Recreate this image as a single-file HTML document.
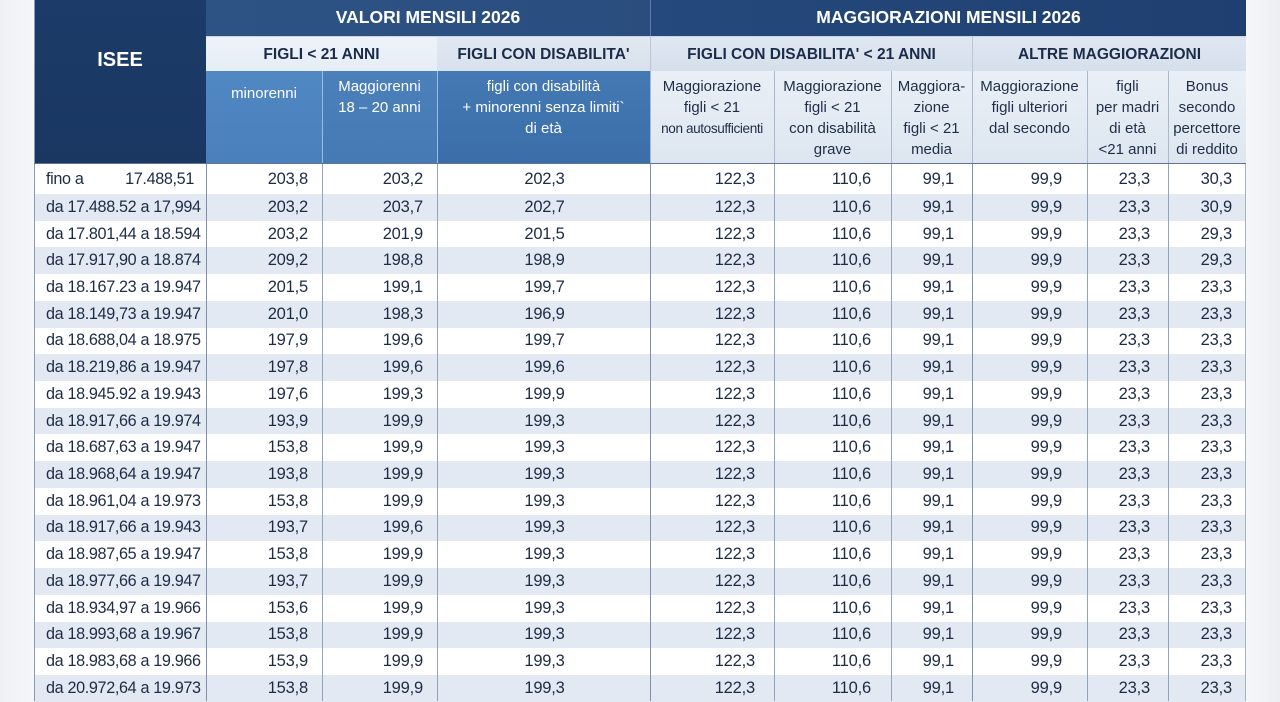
<!DOCTYPE html>
<html><head><meta charset="utf-8">
<style>
html,body{margin:0;padding:0}
body{width:1280px;height:701px;overflow:hidden;background:linear-gradient(90deg,#eef0f3 0,#f6f7f9 34px,#f6f7f9 1246px,#eceef1 1280px);font-family:"Liberation Sans",sans-serif;position:relative}
.a{position:absolute;box-sizing:border-box}
.h1{color:#fff;font-weight:bold;font-size:17.5px;text-align:center;line-height:35px;top:0;height:36px}
.h2{color:#1b2c4b;font-weight:bold;font-size:15.5px;text-align:center;line-height:35px;top:36px;height:35px}
.h3{top:71px;height:93px;text-align:center;font-size:15px;line-height:21.3px;padding-top:4.5px;white-space:nowrap}
.w{color:#fff}
.d{color:#1f2e48;background:linear-gradient(180deg,#e9eff6,#dde6f0)}
.data{position:absolute;left:34px;top:164px;width:1212px;font-size:16.5px;letter-spacing:-0.2px;color:#1d2c46}
.r{display:flex;height:26.72px;align-items:center;background:#fff}
.r:nth-child(even){background:#e2e9f2}
.r.f{height:30px}
.r>span{box-sizing:border-box;white-space:nowrap;display:block}
.r>span:nth-child(1){width:172px;padding-left:12px;font-size:16.2px;letter-spacing:-0.35px}
.r>span:nth-child(2){width:116px;text-align:right;padding-right:14px}
.r>span:nth-child(3){width:115px;text-align:right;padding-right:14px}
.r>span:nth-child(4){width:213px;text-align:center;padding-left:2px}
.r>span:nth-child(5){width:124px;text-align:right;padding-right:19px}
.r>span:nth-child(6){width:117px;text-align:right;padding-right:20px}
.r>span:nth-child(7){width:81px;text-align:right;padding-right:18px}
.r>span:nth-child(8){width:115px;text-align:right;padding-right:25px}
.r>span:nth-child(9){width:81px;text-align:right;padding-right:18px}
.r>span:nth-child(10){width:78px;text-align:right;padding-right:14px}
.v{position:absolute;top:164px;height:537px;width:1px;background:#93a3ba}
.vh{position:absolute;top:71px;height:93px;width:1px}
</style></head><body>

<div class="a" style="left:34px;top:0;width:172px;height:164px;background:linear-gradient(180deg,#1c3b68,#1a3762);color:#fff;font-weight:bold;font-size:20px;text-align:center;padding-top:49px">ISEE</div>

<div class="a h1" style="left:206px;width:444px;background:linear-gradient(90deg,#2d5385,#2a4d7e)">VALORI MENSILI 2026</div>
<div class="a h1" style="left:650px;width:596px;background:linear-gradient(90deg,#25497c,#1f3f70);border-left:1px solid #5d7aa3">MAGGIORAZIONI MENSILI 2026</div>

<div class="a h2" style="left:206px;width:231px;background:linear-gradient(180deg,#eef3f9,#e6edf6);border-top:1px solid #c9d5e4">FIGLI &lt; 21 ANNI</div>
<div class="a h2" style="left:437px;width:213px;background:linear-gradient(180deg,#e1e8f1,#d8e1ec);border-top:1px solid #c9d5e4">FIGLI CON DISABILITA'</div>
<div class="a h2" style="left:650px;width:322px;background:linear-gradient(180deg,#dfe7f1,#d5dfeb);border-top:1px solid #c9d5e4;border-left:1px solid #b8c6d8">FIGLI CON DISABILITA' &lt; 21 ANNI</div>
<div class="a h2" style="left:972px;width:274px;background:linear-gradient(180deg,#dfe7f1,#d5dfeb);border-top:1px solid #c9d5e4;border-left:1px solid #b8c6d8">ALTRE MAGGIORAZIONI</div>

<div class="a h3 w" style="left:206px;width:116px;background:linear-gradient(180deg,#5088c3,#4a80bb);padding-top:11.5px">minorenni</div>
<div class="a h3 w" style="left:322px;width:115px;background:linear-gradient(180deg,#4b80bb,#457ab4)">Maggiorenni<br>18 – 20 anni</div>
<div class="a h3 w" style="left:437px;width:213px;background:linear-gradient(180deg,#4479b4,#3b6ea8)">figli con disabilità<br>+ minorenni senza limiti`<br>di età</div>
<div class="a h3 d" style="left:650px;width:124px"><span>Maggiorazione</span><br>figli &lt; 21<br><span style="font-size:13.6px;letter-spacing:-0.4px">non autosufficienti</span></div>
<div class="a h3 d" style="left:774px;width:117px">Maggiorazione<br>figli &lt; 21<br>con disabilità<br>grave</div>
<div class="a h3 d" style="left:891px;width:81px">Maggiora-<br>zione<br>figli &lt; 21<br>media</div>
<div class="a h3 d" style="left:972px;width:115px">Maggiorazione<br>figli ulteriori<br>dal secondo</div>
<div class="a h3 d" style="left:1087px;width:81px">figli<br>per madri<br>di età<br>&lt;21 anni</div>
<div class="a h3 d" style="left:1168px;width:78px">Bonus<br>secondo<br>percettore<br>di reddito</div>

<div class="vh" style="left:322px;background:#9bbbe0"></div>
<div class="vh" style="left:437px;background:#9bbbe0"></div>
<div class="vh" style="left:650px;background:#a9b8cc"></div>
<div class="vh" style="left:774px;background:#a9b8cc"></div>
<div class="vh" style="left:891px;background:#a9b8cc"></div>
<div class="vh" style="left:972px;background:#a9b8cc"></div>
<div class="vh" style="left:1087px;background:#a9b8cc"></div>
<div class="vh" style="left:1168px;background:#a9b8cc"></div>

<div class="data">
<div class="r f"><span style="display:flex;justify-content:space-between;padding-right:12px"><span>fino a</span><span>17.488,51</span></span><span>203,8</span><span>203,2</span><span>202,3</span><span>122,3</span><span>110,6</span><span>99,1</span><span>99,9</span><span>23,3</span><span>30,3</span></div>
<div class="r"><span>da 17.488.52 a 17,994</span><span>203,2</span><span>203,7</span><span>202,7</span><span>122,3</span><span>110,6</span><span>99,1</span><span>99,9</span><span>23,3</span><span>30,9</span></div>
<div class="r"><span>da 17.801,44 a 18.594</span><span>203,2</span><span>201,9</span><span>201,5</span><span>122,3</span><span>110,6</span><span>99,1</span><span>99,9</span><span>23,3</span><span>29,3</span></div>
<div class="r"><span>da 17.917,90 a 18.874</span><span>209,2</span><span>198,8</span><span>198,9</span><span>122,3</span><span>110,6</span><span>99,1</span><span>99,9</span><span>23,3</span><span>29,3</span></div>
<div class="r"><span>da 18.167.23 a 19.947</span><span>201,5</span><span>199,1</span><span>199,7</span><span>122,3</span><span>110,6</span><span>99,1</span><span>99,9</span><span>23,3</span><span>23,3</span></div>
<div class="r"><span>da 18.149,73 a 19.947</span><span>201,0</span><span>198,3</span><span>196,9</span><span>122,3</span><span>110,6</span><span>99,1</span><span>99,9</span><span>23,3</span><span>23,3</span></div>
<div class="r"><span>da 18.688,04 a 18.975</span><span>197,9</span><span>199,6</span><span>199,7</span><span>122,3</span><span>110,6</span><span>99,1</span><span>99,9</span><span>23,3</span><span>23,3</span></div>
<div class="r"><span>da 18.219,86 a 19.947</span><span>197,8</span><span>199,6</span><span>199,6</span><span>122,3</span><span>110,6</span><span>99,1</span><span>99,9</span><span>23,3</span><span>23,3</span></div>
<div class="r"><span>da 18.945.92 a 19.943</span><span>197,6</span><span>199,3</span><span>199,9</span><span>122,3</span><span>110,6</span><span>99,1</span><span>99,9</span><span>23,3</span><span>23,3</span></div>
<div class="r"><span>da 18.917,66 a 19.974</span><span>193,9</span><span>199,9</span><span>199,3</span><span>122,3</span><span>110,6</span><span>99,1</span><span>99,9</span><span>23,3</span><span>23,3</span></div>
<div class="r"><span>da 18.687,63 a 19.947</span><span>153,8</span><span>199,9</span><span>199,3</span><span>122,3</span><span>110,6</span><span>99,1</span><span>99,9</span><span>23,3</span><span>23,3</span></div>
<div class="r"><span>da 18.968,64 a 19.947</span><span>193,8</span><span>199,9</span><span>199,3</span><span>122,3</span><span>110,6</span><span>99,1</span><span>99,9</span><span>23,3</span><span>23,3</span></div>
<div class="r"><span>da 18.961,04 a 19.973</span><span>153,8</span><span>199,9</span><span>199,3</span><span>122,3</span><span>110,6</span><span>99,1</span><span>99,9</span><span>23,3</span><span>23,3</span></div>
<div class="r"><span>da 18.917,66 a 19.943</span><span>193,7</span><span>199,6</span><span>199,3</span><span>122,3</span><span>110,6</span><span>99,1</span><span>99,9</span><span>23,3</span><span>23,3</span></div>
<div class="r"><span>da 18.987,65 a 19.947</span><span>153,8</span><span>199,9</span><span>199,3</span><span>122,3</span><span>110,6</span><span>99,1</span><span>99,9</span><span>23,3</span><span>23,3</span></div>
<div class="r"><span>da 18.977,66 a 19.947</span><span>193,7</span><span>199,9</span><span>199,3</span><span>122,3</span><span>110,6</span><span>99,1</span><span>99,9</span><span>23,3</span><span>23,3</span></div>
<div class="r"><span>da 18.934,97 a 19.966</span><span>153,6</span><span>199,9</span><span>199,3</span><span>122,3</span><span>110,6</span><span>99,1</span><span>99,9</span><span>23,3</span><span>23,3</span></div>
<div class="r"><span>da 18.993,68 a 19.967</span><span>153,8</span><span>199,9</span><span>199,3</span><span>122,3</span><span>110,6</span><span>99,1</span><span>99,9</span><span>23,3</span><span>23,3</span></div>
<div class="r"><span>da 18.983,68 a 19.966</span><span>153,9</span><span>199,9</span><span>199,3</span><span>122,3</span><span>110,6</span><span>99,1</span><span>99,9</span><span>23,3</span><span>23,3</span></div>
<div class="r"><span>da 20.972,64 a 19.973</span><span>153,8</span><span>199,9</span><span>199,3</span><span>122,3</span><span>110,6</span><span>99,1</span><span>99,9</span><span>23,3</span><span>23,3</span></div>
</div>

<div class="v" style="left:34px;top:0;height:701px;background:#8a9ab2"></div>
<div class="v" style="left:206px;background:#7f90aa"></div>
<div class="v" style="left:322px"></div>
<div class="v" style="left:437px"></div>
<div class="v" style="left:650px;background:#7f90aa"></div>
<div class="v" style="left:774px"></div>
<div class="v" style="left:891px"></div>
<div class="v" style="left:972px;background:#7f90aa"></div>
<div class="v" style="left:1087px"></div>
<div class="v" style="left:1168px"></div>
<div class="v" style="left:1245px;background:#a3b1c4"></div>
<div class="a" style="left:34px;top:163px;width:1212px;height:1px;background:#5f7598"></div>

</body></html>
